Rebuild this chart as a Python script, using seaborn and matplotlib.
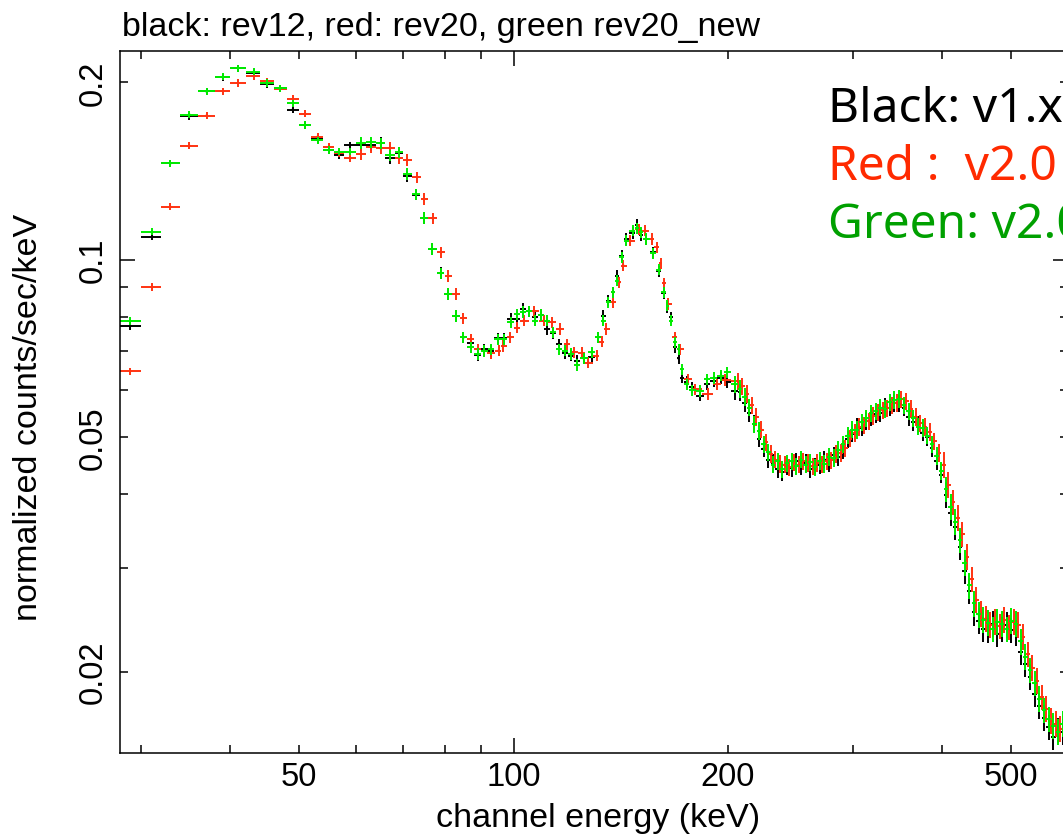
import numpy as np
import pandas as pd
import matplotlib
matplotlib.use("Agg")
import matplotlib.pyplot as plt
from matplotlib.ticker import FixedLocator, FuncFormatter
import seaborn as sns

# ---------------- text ----------------
title = "black: rev12, red: rev20, green rev20_new"
x_label = "channel energy (keV)"
y_label = "normalized counts/sec/keV"
notes = ["Black: v1.x", "Red :  v2.0", "Green: v2.0"]
series_names = ["rev12", "rev20", "rev20_new"]

x_tick_labels = [50, 100, 200, 500]
y_tick_labels = [0.02, 0.05, 0.1, 0.2]

# ---------------- data: low-energy channels (black & green share bins) ----------------
e_low_bg = [28.96, 31.07, 32.96, 35.05, 37.04, 39.04, 40.99, 43.15, 45.06, 47.05,
            48.95, 51.0, 53.05, 55.06, 56.8, 58.97, 61.1, 63.07, 65.03, 67.1,
            69.1, 70.9, 72.9, 74.9, 76.9, 79.0, 80.9, 82.97, 85.0, 87.1,
            89.1, 91.0, 93.0, 95.0, 97.0, 99.1, 101.2, 103.2, 105.2, 107.3,
            109.4, 111.5, 113.7, 115.9, 118.2, 120.5, 122.7, 125.5, 128.7, 131.5,
            133.6, 135.8, 138.0, 139.6, 142.0, 144.0, 147.0, 149.0, 151.0, 153.5,
            157.0, 160.0, 162.5, 164.5, 166.5, 168.5, 170.5, 172.5, 175.0, 178.0,
            182.8, 187.0, 191.0, 195.5, 199.5]

black_low = [0.0772, 0.1094, 0.1458, 0.1752, 0.1931, 0.2040, 0.2113, 0.2075, 0.1987, 0.1954,
             0.1798, 0.1693, 0.1600, 0.1535, 0.1505, 0.1565, 0.1565, 0.1565, 0.1578, 0.1486,
             0.1518, 0.1386, 0.1290, 0.1177, 0.1043, 0.0950, 0.0875, 0.0803, 0.0738, 0.0721,
             0.0688, 0.0705, 0.0700, 0.0735, 0.0735, 0.0793, 0.0793, 0.0825, 0.0818, 0.0798,
             0.0806, 0.0763, 0.0750, 0.0719, 0.0695, 0.0687, 0.0674, 0.0680, 0.0683, 0.0738,
             0.0803, 0.0852, 0.0880, 0.0939, 0.1016, 0.1084, 0.1110, 0.1145, 0.1101, 0.1084,
             0.1030, 0.0955, 0.0878, 0.0830, 0.0798, 0.0710, 0.0680, 0.0631, 0.0620, 0.0607,
             0.0588, 0.0615, 0.0622, 0.0630, 0.0620]

green_low = [0.0787, 0.1115, 0.1458, 0.1763, 0.1931, 0.2045, 0.2113, 0.2085, 0.1995, 0.1954,
             0.1843, 0.1693, 0.1596, 0.1535, 0.1525, 0.1525, 0.1578, 0.1582, 0.1576, 0.1505,
             0.1522, 0.1398, 0.1292, 0.1177, 0.1043, 0.0948, 0.0875, 0.0803, 0.0738, 0.0710,
             0.0692, 0.0700, 0.0705, 0.0733, 0.0733, 0.0783, 0.0808, 0.0815, 0.0818, 0.0788,
             0.0806, 0.0788, 0.0753, 0.0705, 0.0701, 0.0692, 0.0663, 0.0680, 0.0696, 0.0738,
             0.0788, 0.0847, 0.0880, 0.0921, 0.1009, 0.1077, 0.1120, 0.1130, 0.1113, 0.1084,
             0.1026, 0.0962, 0.0880, 0.0836, 0.0788, 0.0724, 0.0705, 0.0652, 0.0615, 0.0600,
             0.0599, 0.0627, 0.0630, 0.0636, 0.0644]

e_low_red = [28.96, 31.07, 32.96, 35.05, 37.04, 39.04, 40.99, 43.15, 45.06, 47.05,
             48.95, 51.0, 53.05, 55.06, 56.8, 58.97, 61.1, 63.07, 65.03, 67.1,
             69.1, 70.9, 73.2, 74.9, 77.0, 79.1, 81.0, 83.1, 84.9, 87.1,
             89.0, 90.9, 92.9, 95.3, 96.8, 98.9, 101.1, 103.3, 106.7, 110.2,
             113.2, 116.3, 118.8, 121.4, 124.7, 127.4, 130.9, 133.1, 134.9, 138.1,
             140.8, 142.7, 145.9, 150.2, 153.0, 156.5, 159.0, 161.0, 162.8, 165.0,
             168.6, 171.2, 176.0, 180.0, 187.7, 193.0, 198.0]

red_low = [0.0647, 0.0899, 0.1230, 0.1561, 0.1756, 0.1932, 0.1995, 0.2050, 0.2008, 0.1950,
           0.1874, 0.1768, 0.1617, 0.1555, 0.1515, 0.1488, 0.1511, 0.1552, 0.1546, 0.1549,
           0.1488, 0.1476, 0.1380, 0.1268, 0.1175, 0.1029, 0.0939, 0.0875, 0.0796, 0.0733,
           0.0705, 0.0701, 0.0695, 0.0701, 0.0714, 0.0738, 0.0767, 0.0788, 0.0817, 0.0788,
           0.0783, 0.0763, 0.0719, 0.0696, 0.0695, 0.0669, 0.0687, 0.0726, 0.0763, 0.0847,
           0.0915, 0.0977, 0.1077, 0.1127, 0.1120, 0.1084, 0.1050, 0.0986, 0.0912, 0.0841,
           0.0738, 0.0705, 0.0627, 0.0603, 0.0592, 0.0615, 0.0625]

# ---------------- data: high-energy channels (dense band) ----------------
e_dense = [205.0, 208.1, 211.3, 214.5, 217.8, 221.1, 224.5, 227.9, 231.4, 234.9,
           238.5, 242.1, 245.8, 249.6, 253.4, 257.2, 261.1, 265.1, 269.2, 273.3,
           277.4, 281.6, 285.9, 290.3, 294.7, 299.2, 303.8, 308.4, 313.1, 317.9,
           322.7, 327.6, 332.6, 337.7, 342.8, 348.1, 353.4, 358.8, 364.2, 369.8,
           375.4, 381.1, 386.9, 392.8, 398.8, 404.9, 411.1, 417.4, 423.7, 430.2,
           436.7, 443.4, 450.1, 457.0, 463.9, 471.0, 478.2, 485.4, 492.8, 500.3,
           508.0, 515.7, 523.6, 531.6, 539.7, 547.9, 556.2, 564.7, 573.3, 582.1,
           590.9, 600.0]

e_dense_red = [206.5, 209.7, 212.9, 216.1, 219.4, 222.8, 226.2, 229.6, 233.1, 236.7,
               240.3, 243.9, 247.7, 251.5, 255.3, 259.1, 263.1, 267.1, 271.2, 275.3,
               279.5, 283.7, 288.1, 292.5, 296.9, 301.5, 306.1, 310.7, 315.5, 320.3,
               325.1, 330.1, 335.1, 340.2, 345.4, 350.7, 356.1, 361.5, 367.0, 372.6,
               378.2, 384.0, 389.8, 395.8, 401.8, 408.0, 414.2, 420.5, 426.9, 433.4,
               440.0, 446.7, 453.5, 460.4, 467.4, 474.6, 481.8, 489.1, 496.5, 504.1,
               511.8, 519.6, 527.6, 535.6, 543.8, 552.0, 560.4, 569.0, 577.7, 586.5,
               595.4, 604.0]

black_dense = [0.0598, 0.0596, 0.0571, 0.0549, 0.0527, 0.0497, 0.0478, 0.0458, 0.0452, 0.0441,
               0.0436, 0.0447, 0.0443, 0.0455, 0.0446, 0.0452, 0.0441, 0.0446, 0.0448, 0.0458,
               0.0452, 0.0466, 0.0463, 0.0476, 0.0496, 0.0507, 0.0521, 0.0519, 0.0533, 0.0541,
               0.0547, 0.0550, 0.0563, 0.0561, 0.0572, 0.0570, 0.0561, 0.0541, 0.0530, 0.0526,
               0.0509, 0.0500, 0.0479, 0.0455, 0.0432, 0.0399, 0.0372, 0.0352, 0.0325, 0.0296,
               0.0274, 0.0252, 0.0244, 0.0236, 0.0235, 0.0241, 0.0232, 0.0236, 0.0240, 0.0235,
               0.0233, 0.0216, 0.0206, 0.0196, 0.0183, 0.0175, 0.0167, 0.0161, 0.0155, 0.0159,
               0.0158, 0.0155]

green_dense = [0.0615, 0.0604, 0.0585, 0.0561, 0.0526, 0.0512, 0.0486, 0.0471, 0.0449, 0.0455,
               0.0441, 0.0451, 0.0455, 0.0446, 0.0458, 0.0449, 0.0453, 0.0444, 0.0456, 0.0450,
               0.0463, 0.0461, 0.0476, 0.0486, 0.0503, 0.0515, 0.0514, 0.0530, 0.0538, 0.0549,
               0.0553, 0.0561, 0.0558, 0.0573, 0.0578, 0.0581, 0.0566, 0.0553, 0.0538, 0.0521,
               0.0518, 0.0503, 0.0486, 0.0465, 0.0438, 0.0408, 0.0381, 0.0359, 0.0334, 0.0306,
               0.0280, 0.0261, 0.0250, 0.0245, 0.0242, 0.0236, 0.0243, 0.0241, 0.0236, 0.0244,
               0.0241, 0.0225, 0.0212, 0.0201, 0.0191, 0.0180, 0.0172, 0.0166, 0.0162, 0.0158,
               0.0163, 0.0160]

red_dense = [0.0622, 0.0610, 0.0592, 0.0566, 0.0541, 0.0515, 0.0490, 0.0468, 0.0458, 0.0450,
             0.0449, 0.0444, 0.0453, 0.0449, 0.0455, 0.0452, 0.0446, 0.0452, 0.0449, 0.0455,
             0.0457, 0.0468, 0.0470, 0.0479, 0.0497, 0.0508, 0.0520, 0.0524, 0.0532, 0.0543,
             0.0551, 0.0555, 0.0560, 0.0566, 0.0572, 0.0580, 0.0575, 0.0558, 0.0541, 0.0528,
             0.0520, 0.0510, 0.0492, 0.0470, 0.0449, 0.0415, 0.0388, 0.0365, 0.0342, 0.0313,
             0.0287, 0.0265, 0.0251, 0.0246, 0.0240, 0.0243, 0.0239, 0.0245, 0.0238, 0.0243,
             0.0240, 0.0229, 0.0214, 0.0203, 0.0193, 0.0181, 0.0173, 0.0165, 0.0163, 0.0160,
             0.0159, 0.0162]

# relative 1-sigma errors by energy band
err_band_edges = [60.0, 205.0, 400.0]
err_band_values = [0.014, 0.022, 0.034, 0.05]

# ---------------- styling ----------------
W, H = 1063, 837
colors = {"rev12": "#000000", "rev20": "#ff3311", "rev20_new": "#00ee00"}
note_colors = ["#000000", "#ff2a00", "#00a000"]

sns.set_theme(style="ticks")
plt.rcParams["font.family"] = ["Liberation Sans", "DejaVu Sans"]
plt.rcParams["text.color"] = "black"
plt.rcParams["axes.labelcolor"] = "black"
plt.rcParams["axes.linewidth"] = 1.1
plt.rcParams["axes.edgecolor"] = "black"

fig = plt.figure(figsize=(W / 100, H / 100), dpi=100)
fig.patch.set_facecolor("white")
ax = fig.add_axes([120 / W, 1 - 754 / H, (1068 - 120) / W, (754 - 51.7) / H])
ax.set_facecolor("white")


def log_bin_half_widths(e):
    e = np.asarray(e, float)
    mids = np.sqrt(e[:-1] * e[1:])
    lo = np.concatenate([[e[0] ** 2 / mids[0]], mids])
    hi = np.concatenate([mids, [e[-1] ** 2 / mids[-1]]])
    return e - lo, hi - e


series = {
    "rev12": (e_low_bg + e_dense, black_low + black_dense),
    "rev20": (e_low_red + e_dense_red, red_low + red_dense),
    "rev20_new": (e_low_bg + e_dense, green_low + green_dense),
}

frames = []
for name in series_names:
    e, y = series[name]
    e = np.asarray(e, float)
    y = np.asarray(y, float)
    xl, xh = log_bin_half_widths(e)
    rel = np.asarray(err_band_values)[np.searchsorted(err_band_edges, e, side="right")]
    ax.errorbar(e, y, xerr=[xl, xh], yerr=y * rel, fmt="none",
                ecolor=colors[name], elinewidth=1.4, capsize=0)
    frames.append(pd.DataFrame({"energy": e, "rate": y, "version": name}))

df = pd.concat(frames, ignore_index=True)
sns.scatterplot(data=df, x="energy", y="rate", hue="version", palette=colors,
                s=3, linewidth=0, legend=False, ax=ax)

ax.set_xscale("log")
ax.set_yscale("log")
ax.set_xlim(28.0, 601)
ax.set_ylim(0.01455, 0.2263)
ax.set_xlabel("")
ax.set_ylabel("")


def make_fmt(labels):
    def f(v, pos):
        for t in labels:
            if np.isclose(v, t):
                return f"{t:g}"
        return ""
    return FuncFormatter(f)


ax.xaxis.set_major_locator(FixedLocator([100]))
ax.xaxis.set_minor_locator(FixedLocator([30, 40, 50, 60, 70, 80, 90, 200, 300, 400, 500, 600]))
ax.xaxis.set_major_formatter(make_fmt(x_tick_labels))
ax.xaxis.set_minor_formatter(make_fmt(x_tick_labels))
ax.yaxis.set_major_locator(FixedLocator([0.1]))
ax.yaxis.set_minor_locator(FixedLocator([0.02, 0.03, 0.04, 0.05, 0.06, 0.07, 0.08, 0.09, 0.2]))
ax.yaxis.set_major_formatter(make_fmt(y_tick_labels))
ax.yaxis.set_minor_formatter(make_fmt(y_tick_labels))

ax.tick_params(which="both", direction="in", top=True, right=True,
               width=1.1, color="black", labelsize=23.5, labelcolor="black")
ax.tick_params(which="major", length=10.8)
ax.tick_params(which="minor", length=5.8)
ax.tick_params(axis="x", which="both", pad=6)
ax.tick_params(axis="y", which="both", pad=8, labelrotation=90)
for lbl in ax.get_yticklabels(which="both"):
    lbl.set_va("center")

for s in ax.spines.values():
    s.set_visible(True)
    s.set_color("black")
    s.set_linewidth(1.1)

fig.text(122 / W, 1 - 36 / H, title, ha="left", va="baseline", fontsize=24.5, color="black")
fig.text(598 / W, 1 - 827 / H, x_label, ha="center", va="baseline", fontsize=24.5, color="black")
fig.text(29 / W, 1 - 417 / H, y_label, ha="center", va="center", rotation=90,
         fontsize=24.5, color="black")

for i, (txt, c) in enumerate(zip(notes, note_colors)):
    fig.text(828 / W, 1 - (122 + 58 * i) / H, txt, ha="left", va="baseline",
             color=c, fontsize=34.5, family=["Noto Sans", "DejaVu Sans"])

fig.savefig("out.png", dpi=100, facecolor="white")
